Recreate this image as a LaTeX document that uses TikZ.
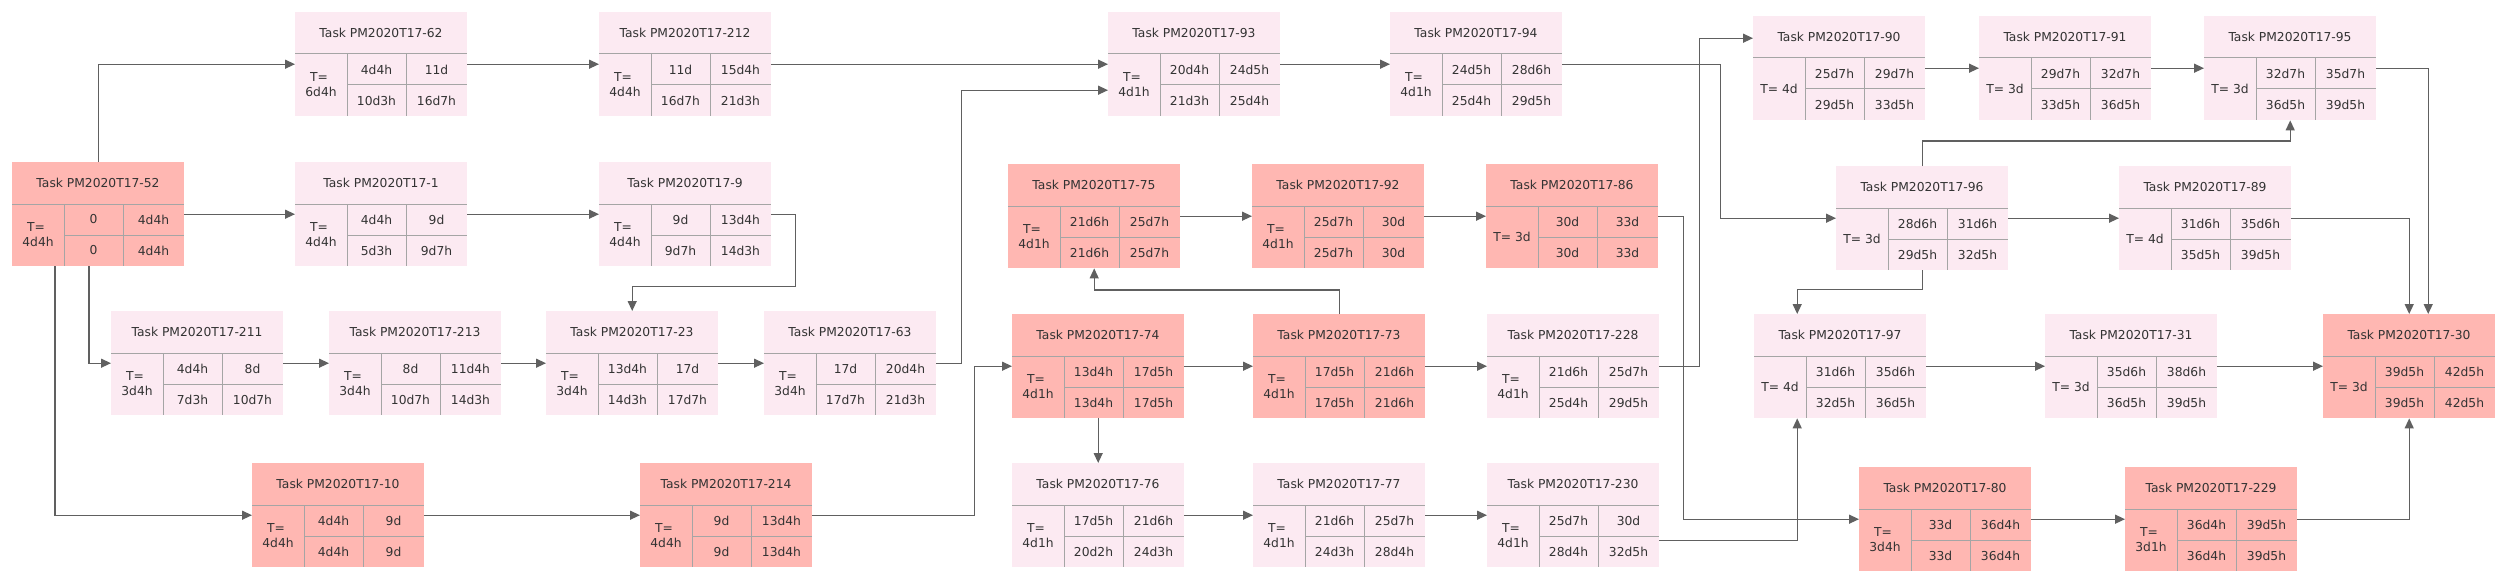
\documentclass[tikz,border=0pt]{standalone}
\usepackage{fontspec}
\setmainfont{DejaVu Sans}
\usetikzlibrary{arrows.meta,calc}

\definecolor{critfill}{RGB}{255,183,178}
\definecolor{normfill}{RGB}{252,234,242}
\definecolor{cellgrey}{RGB}{165,165,165}
\definecolor{linkgrey}{RGB}{96,96,96}
\definecolor{txtgrey}{RGB}{51,51,51}

\tikzset{
  boxbody/.style={draw=none, minimum width=172pt, minimum height=104pt, inner sep=0pt, anchor=north west},
  crit/.style={boxbody, fill=critfill},
  norm/.style={boxbody, fill=normfill},
  cell/.style={draw=cellgrey, line width=1pt},
  lbl/.style={text=txtgrey, font=\fontsize{12.3}{15}\selectfont, inner sep=0pt, align=center},
  link/.style={draw=linkgrey, line width=1.3pt, -{Triangle[length=10pt,width=9pt]}},
}

% #1 name, #2 top left corner, #3 fill style, #4 task number, #5 duration, #6-#9 ES EF LS LF
\newcommand{\pertbox}[9]{%
  \node[#3] (#1) at (#2) {};
  \begin{scope}[shift={(#2)}]
    \draw[cell] (0,42) -- (172,42) (52,73) -- (172,73) (52,42) -- (52,104) (111,42) -- (111,104);
    \node[lbl] (#1-t) at (86,21) {Task PM2020T17-#4};
    \node[lbl] (#1-d) at (26,73) {#5};
    \node[lbl] (#1-es) at (81.5,57.5) {#6};
    \node[lbl] (#1-ef) at (141.5,57.5) {#7};
    \node[lbl] (#1-ls) at (81.5,88.5) {#8};
    \node[lbl] (#1-lf) at (141.5,88.5) {#9};
  \end{scope}
}
\newcommand{\tw}[1]{T=\hspace*{4pt}\\#1}

\begin{document}
\begin{tikzpicture}[x=1pt,y=1pt,yscale=-1]
\path[use as bounding box, fill=white] (0,0) rectangle (2508,583);

% task boxes
\pertbox{t52}{12,162}{crit}{52}{\tw{4d4h}}{0}{4d4h}{0}{4d4h}
\pertbox{t62}{295,12}{norm}{62}{\tw{6d4h}}{4d4h}{11d}{10d3h}{16d7h}
\pertbox{t1}{295,162}{norm}{1}{\tw{4d4h}}{4d4h}{9d}{5d3h}{9d7h}
\pertbox{t211}{111,311}{norm}{211}{\tw{3d4h}}{4d4h}{8d}{7d3h}{10d7h}
\pertbox{t213}{329,311}{norm}{213}{\tw{3d4h}}{8d}{11d4h}{10d7h}{14d3h}
\pertbox{t10}{252,463}{crit}{10}{\tw{4d4h}}{4d4h}{9d}{4d4h}{9d}
\pertbox{t212}{599,12}{norm}{212}{\tw{4d4h}}{11d}{15d4h}{16d7h}{21d3h}
\pertbox{t9}{599,162}{norm}{9}{\tw{4d4h}}{9d}{13d4h}{9d7h}{14d3h}
\pertbox{t23}{546,311}{norm}{23}{\tw{3d4h}}{13d4h}{17d}{14d3h}{17d7h}
\pertbox{t63}{764,311}{norm}{63}{\tw{3d4h}}{17d}{20d4h}{17d7h}{21d3h}
\pertbox{t214}{640,463}{crit}{214}{\tw{4d4h}}{9d}{13d4h}{9d}{13d4h}
\pertbox{t93}{1108,12}{norm}{93}{\tw{4d1h}}{20d4h}{24d5h}{21d3h}{25d4h}
\pertbox{t94}{1390,12}{norm}{94}{\tw{4d1h}}{24d5h}{28d6h}{25d4h}{29d5h}
\pertbox{t75}{1008,164}{crit}{75}{\tw{4d1h}}{21d6h}{25d7h}{21d6h}{25d7h}
\pertbox{t92}{1252,164}{crit}{92}{\tw{4d1h}}{25d7h}{30d}{25d7h}{30d}
\pertbox{t86}{1486,164}{crit}{86}{T= 3d}{30d}{33d}{30d}{33d}
\pertbox{t74}{1012,314}{crit}{74}{\tw{4d1h}}{13d4h}{17d5h}{13d4h}{17d5h}
\pertbox{t73}{1253,314}{crit}{73}{\tw{4d1h}}{17d5h}{21d6h}{17d5h}{21d6h}
\pertbox{t228}{1487,314}{norm}{228}{\tw{4d1h}}{21d6h}{25d7h}{25d4h}{29d5h}
\pertbox{t76}{1012,463}{norm}{76}{\tw{4d1h}}{17d5h}{21d6h}{20d2h}{24d3h}
\pertbox{t77}{1253,463}{norm}{77}{\tw{4d1h}}{21d6h}{25d7h}{24d3h}{28d4h}
\pertbox{t230}{1487,463}{norm}{230}{\tw{4d1h}}{25d7h}{30d}{28d4h}{32d5h}
\pertbox{t90}{1753,16}{norm}{90}{T= 4d}{25d7h}{29d7h}{29d5h}{33d5h}
\pertbox{t91}{1979,16}{norm}{91}{T= 3d}{29d7h}{32d7h}{33d5h}{36d5h}
\pertbox{t95}{2204,16}{norm}{95}{T= 3d}{32d7h}{35d7h}{36d5h}{39d5h}
\pertbox{t96}{1836,166}{norm}{96}{T= 3d}{28d6h}{31d6h}{29d5h}{32d5h}
\pertbox{t89}{2119,166}{norm}{89}{T= 4d}{31d6h}{35d6h}{35d5h}{39d5h}
\pertbox{t97}{1754,314}{norm}{97}{T= 4d}{31d6h}{35d6h}{32d5h}{36d5h}
\pertbox{t31}{2045,314}{norm}{31}{T= 3d}{35d6h}{38d6h}{36d5h}{39d5h}
\pertbox{t30}{2323,314}{crit}{30}{T= 3d}{39d5h}{42d5h}{39d5h}{42d5h}
\pertbox{t80}{1859,467}{crit}{80}{\tw{3d4h}}{33d}{36d4h}{33d}{36d4h}
\pertbox{t229}{2125,467}{crit}{229}{\tw{3d1h}}{36d4h}{39d5h}{36d4h}{39d5h}

% links
\draw[link] (t52.north) |- (t62.west);
\draw[link] (t52.east) -- (t1.west);
\draw[link] ($(t52.south west)+(77,0)$) |- (t211.west);
\draw[link] ($(t52.south west)+(43,0)$) |- (t10.west);
\draw[link] (t62.east) -- (t212.west);
\draw[link] (t1.east) -- (t9.west);
\draw[link] (t9.east) -- ++(24,0) -- ++(0,72) -| (t23.north);
\draw[link] (t211.east) -- (t213.west);
\draw[link] (t213.east) -- (t23.west);
\draw[link] (t23.east) -- (t63.west);
\draw[link] (t63.east) -- ++(25,0) |- ($(t93.west)+(0,26)$);
\draw[link] (t212.east) -- (t93.west);
\draw[link] (t10.east) -- (t214.west);
\draw[link] (t214.east) -- ++(162,0) |- (t74.west);
\draw[link] (t93.east) -- (t94.west);
\draw[link] (t75.east) -- (t92.west);
\draw[link] (t92.east) -- (t86.west);
\draw[link] (t74.east) -- (t73.west);
\draw[link] (t73.north) -- ++(0,-24) -| (t75.south);
\draw[link] (t74.south) -- (t76.north);
\draw[link] (t76.east) -- (t77.west);
\draw[link] (t77.east) -- (t230.west);
\draw[link] (t73.east) -- (t228.west);
\draw[link] (t94.east) -- ++(158,0) |- (t96.west);
\draw[link] (t228.east) -- ++(40,0) |- ($(t90.west)+(0,-30)$);
\draw[link] (t86.east) -- ++(25,0) |- (t80.west);
\draw[link] ($(t230.east)+(0,25)$) -| ($(t97.south)+(-43,0)$);
\draw[link] (t96.south) -- ++(0,19) -| ($(t97.north)+(-43,0)$);
\draw[link] (t96.north) -- ++(0,-25) -| (t95.south);
\draw[link] (t90.east) -- (t91.west);
\draw[link] (t91.east) -- (t95.west);
\draw[link] (t96.east) -- (t89.west);
\draw[link] (t97.east) -- (t31.west);
\draw[link] (t31.east) -- (t30.west);
\draw[link] (t80.east) -- (t229.west);
\draw[link] (t229.east) -| (t30.south);
\draw[link] (t95.east) -| ($(t30.north)+(19,0)$);
\draw[link] (t89.east) -| (t30.north);

\end{tikzpicture}
\end{document}
